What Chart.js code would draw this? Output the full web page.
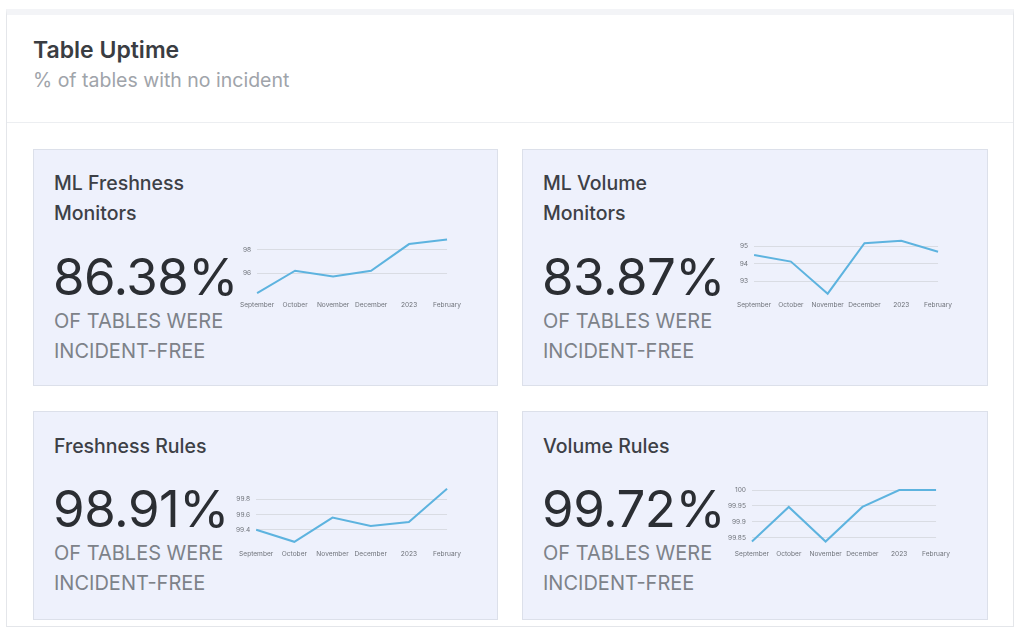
<!DOCTYPE html>
<html>
<head>
<meta charset="utf-8">
<script src="https://cdn.jsdelivr.net/npm/chart.js@4.4.1/dist/chart.umd.min.js"></script>
<style>
  body { margin: 0; width: 1024px; height: 632px; background: #fff; font-family: Inter, "Noto Sans", sans-serif; position: relative; overflow: hidden; }
  .card { position: absolute; left: 6px; top: 9px; width: 1008px; height: 618px; border: 1px solid #e4e6ea; border-top: 6px solid #f3f4f7; box-sizing: border-box; }
  .head { position: absolute; left: 0; top: 0; right: 0; height: 107px; border-bottom: 1px solid #eceef1; }
  .title { position: absolute; left: 26px; top: 21px; font-size: 23px; font-weight: 600; color: #3a3d42; }
  .sub { position: absolute; left: 26px; top: 53px; font-size: 19.5px; color: #a0a4aa; }
  .panel { position: absolute; background: #eef1fc; border: 1px solid #dce0ea; box-sizing: border-box; }
  .name { position: absolute; left: 20px; font-size: 19.5px; font-weight: 500; color: #3d4046; line-height: 30px; }
  .big { position: absolute; left: 19px; font-size: 51px; color: #2b2e33; letter-spacing: -0.5px; }
  .caption { position: absolute; left: 20px; font-size: 20px; color: #7d8289; line-height: 30px; }
  .mini { position: absolute; }
</style>
</head>
<body>
<div class="card"><div class="head">
  <div class="title">Table Uptime</div>
  <div class="sub">% of tables with no incident</div>
</div></div>
<div id="panels"></div>
<script>
// monthly x labels shared by every mini chart
const months = ['September', 'October', 'November', 'December', '2023', 'February'];

const panelTitles = ['ML Freshness<br>Monitors', 'ML Volume<br>Monitors', 'Freshness Rules', 'Volume Rules'];
const headlines = ['86.38%', '83.87%', '98.91%', '99.72%'];

// series
const mlFreshness = [94.26, 96.2, 95.7, 96.2, 98.5, 98.9];
const mlVolume = [94.51, 94.13, 92.28, 95.19, 95.33, 94.7];
const freshnessRules = [99.40, 99.24, 99.56, 99.45, 99.50, 99.94];
const volumeRules = [99.838, 99.947, 99.838, 99.947, 100, 100];

// y tick labels and axis ranges
const mlFreshnessTicks = [96, 98];
const mlVolumeTicks = [93, 94, 95];
const freshnessRulesTicks = [99.4, 99.6, 99.8];
const volumeRulesTicks = [99.85, 99.9, 99.95, 100];
const yRanges = [[94.1, 99.2], [92.2, 95.55], [99.21, 99.99], [99.83, 100.013]];

const series = [mlFreshness, mlVolume, freshnessRules, volumeRules];
const tickSets = [mlFreshnessTicks, mlVolumeTicks, freshnessRulesTicks, volumeRulesTicks];

const layout = [
  { left: 33, top: 149, w: 465, h: 237, two: true },
  { left: 522, top: 149, w: 466, h: 237, two: true },
  { left: 33, top: 411, w: 465, h: 209, two: false },
  { left: 522, top: 411, w: 466, h: 209, two: false },
];
const chartBoxes = [
  { left: 234, top: 226, w: 233, h: 89 },
  { left: 731, top: 227, w: 227, h: 88 },
  { left: 230, top: 475, w: 237, h: 89 },
  { left: 722, top: 476, w: 234, h: 88 },
];

const root = document.getElementById('panels');
layout.forEach((p, i) => {
  const el = document.createElement('div');
  el.className = 'panel';
  Object.assign(el.style, { left: p.left + 'px', top: p.top + 'px', width: p.w + 'px', height: p.h + 'px' });
  el.innerHTML =
    `<div class="name" style="top:${p.two ? 18 : 19}px">${panelTitles[i]}</div>` +
    `<div class="big" style="top:${p.two ? 96 : 66}px">${headlines[i]}</div>` +
    `<div class="caption" style="top:${p.two ? 156 : 126}px">OF TABLES WERE<br>INCIDENT-FREE</div>`;
  root.appendChild(el);

  const b = chartBoxes[i];
  const box = document.createElement('div');
  box.className = 'mini';
  Object.assign(box.style, { left: b.left + 'px', top: b.top + 'px', width: b.w + 'px', height: b.h + 'px' });
  const cv = document.createElement('canvas');
  box.appendChild(cv);
  document.body.appendChild(box);

  const ticks = tickSets[i];
  new Chart(cv, {
    type: 'line',
    data: {
      labels: months,
      datasets: [{
        data: series[i],
        borderColor: '#5db3df',
        borderWidth: 2,
        pointRadius: 0,
        tension: 0,
        clip: false,
      }]
    },
    options: {
      responsive: true,
      maintainAspectRatio: false,
      animation: false,
      layout: { padding: { top: 2, right: 2 } },
      plugins: { legend: { display: false }, tooltip: { enabled: false } },
      scales: {
        x: {
          offset: false,
          grid: { display: false, drawTicks: false },
          border: { display: false },
          ticks: { font: { size: 6.6, family: 'Inter' }, color: '#6f737a', maxRotation: 0, autoSkip: false, padding: 6 }
        },
        y: {
          min: yRanges[i][0],
          max: yRanges[i][1],
          afterBuildTicks: (scale) => { scale.ticks = ticks.map(v => ({ value: v })); },
          grid: { color: '#d9dce3', drawTicks: false },
          border: { display: false },
          ticks: {
            font: { size: 6.6, family: 'Inter' }, color: '#6f737a', padding: 6,
            callback: (v) => String(Number(v.toFixed(3)))
          }
        }
      }
    }
  });
});
</script>
</body>
</html>
